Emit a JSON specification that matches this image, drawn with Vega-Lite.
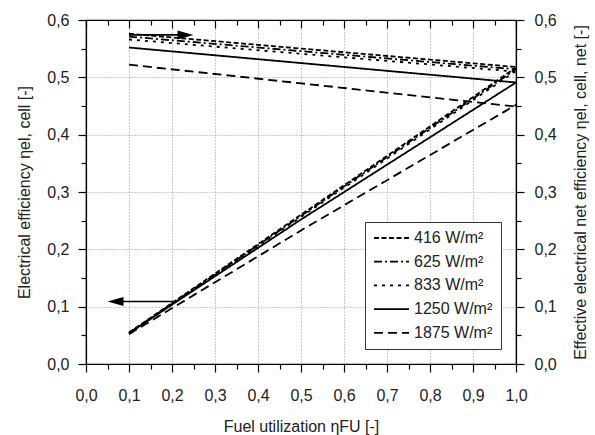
{
  "$schema": "https://vega.github.io/schema/vega-lite/v6.json",
  "width": 430,
  "height": 344,
  "autosize": {"type": "none"},
  "padding": {"left": 86, "top": 20, "right": 79, "bottom": 71},
  "background": "white",
  "config": {
    "font": "Liberation Sans",
    "view": {"stroke": "black", "strokeWidth": 1.2},
    "axis": {
      "domainColor": "black",
      "domainWidth": 1.2,
      "tickColor": "black",
      "tickWidth": 1.2,
      "labelFontSize": 16,
      "labelColor": "#222",
      "titleFontSize": 16,
      "titleFontWeight": "normal",
      "titleColor": "#222",
      "labelOverlap": false,
      "labelFlush": false,
      "gridColor": "#999",
      "gridDash": [1, 2],
      "gridWidth": 1
    },
    "legend": {
      "labelFontSize": 16,
      "labelColor": "#222",
      "strokeColor": "#333",
      "fillColor": "white",
      "padding": 8,
      "symbolType": "stroke",
      "symbolStrokeColor": "black",
      "symbolStrokeWidth": 1.8,
      "symbolSize": 1225,
      "clipHeight": 16,
      "rowPadding": 7.7
    }
  },
  "datasets": {
    "el": [
      {"s": "416 W/m²", "x": 0.1, "y": 0.055},
      {"s": "416 W/m²", "x": 1.0, "y": 0.517},
      {"s": "625 W/m²", "x": 0.1, "y": 0.054},
      {"s": "625 W/m²", "x": 1.0, "y": 0.514},
      {"s": "833 W/m²", "x": 0.1, "y": 0.053},
      {"s": "833 W/m²", "x": 1.0, "y": 0.511},
      {"s": "1250 W/m²", "x": 0.1, "y": 0.054},
      {"s": "1250 W/m²", "x": 0.5, "y": 0.252},
      {"s": "1250 W/m²", "x": 1.0, "y": 0.491},
      {"s": "1875 W/m²", "x": 0.1, "y": 0.052},
      {"s": "1875 W/m²", "x": 0.5, "y": 0.233},
      {"s": "1875 W/m²", "x": 1.0, "y": 0.452}
    ],
    "net": [
      {"s": "416 W/m²", "x": 0.1, "y": 0.576},
      {"s": "416 W/m²", "x": 1.0, "y": 0.518},
      {"s": "625 W/m²", "x": 0.1, "y": 0.571},
      {"s": "625 W/m²", "x": 1.0, "y": 0.514},
      {"s": "833 W/m²", "x": 0.1, "y": 0.566},
      {"s": "833 W/m²", "x": 1.0, "y": 0.510},
      {"s": "1250 W/m²", "x": 0.1, "y": 0.552},
      {"s": "1250 W/m²", "x": 1.0, "y": 0.491},
      {"s": "1875 W/m²", "x": 0.1, "y": 0.522},
      {"s": "1875 W/m²", "x": 1.0, "y": 0.449}
    ],
    "arrows": [
      {"arrow": "top", "x": 0.1, "y": 0.574},
      {"arrow": "top", "x": 0.24, "y": 0.574},
      {"arrow": "bottom", "x": 0.205, "y": 0.109},
      {"arrow": "bottom", "x": 0.06, "y": 0.109}
    ],
    "heads": [
      {"arrow": "top", "x": 0.25, "y": 0.574},
      {"arrow": "bottom", "x": 0.05, "y": 0.109}
    ]
  },
  "layer": [
    {
      "data": {"name": "el"},
      "mark": {"type": "line", "color": "black", "strokeWidth": 1.8},
      "encoding": {
        "x": {
          "field": "x", "type": "quantitative",
          "scale": {"domain": [0, 1], "nice": false, "zero": false},
          "axis": {
            "orient": "bottom",
            "title": "Fuel utilization ηFU [-]",
            "values": [0, 0.05, 0.1, 0.15, 0.2, 0.25, 0.3, 0.35, 0.4, 0.45, 0.5, 0.55, 0.6, 0.65, 0.7, 0.75, 0.8, 0.85, 0.9, 0.95, 1.0],
            "labelExpr": "abs(datum.value*10 - round(datum.value*10)) > 0.01 ? '' : replace(format(datum.value, '.1f'), '.', ',')",
            "tickSize": {"condition": {"test": "abs(datum.value*10 - round(datum.value*10)) > 0.01", "value": 5}, "value": 8},
            "gridOpacity": {"condition": {"test": "abs(datum.value*10 - round(datum.value*10)) > 0.01", "value": 0}, "value": 1},
            "grid": true,
            "labelPadding": 15,
            "titlePadding": 15
          }
        },
        "y": {
          "field": "y", "type": "quantitative",
          "scale": {"domain": [0, 0.6], "nice": false, "zero": false},
          "axis": {
            "orient": "left",
            "title": "Electrical efficiency ηel, cell [-]",
            "values": [0, 0.05, 0.1, 0.15, 0.2, 0.25, 0.3, 0.35, 0.4, 0.45, 0.5, 0.55, 0.6],
            "labelExpr": "abs(datum.value*10 - round(datum.value*10)) > 0.01 ? '' : replace(format(datum.value, '.1f'), '.', ',')",
            "tickSize": {"condition": {"test": "abs(datum.value*10 - round(datum.value*10)) > 0.01", "value": 5}, "value": 8},
            "gridOpacity": {"condition": {"test": "abs(datum.value*10 - round(datum.value*10)) > 0.01", "value": 0}, "value": 1},
            "grid": true,
            "labelPadding": 9,
            "titlePadding": 14
          }
        },
        "strokeDash": {
          "field": "s", "type": "nominal",
          "scale": {
            "domain": ["416 W/m²", "625 W/m²", "833 W/m²", "1250 W/m²", "1875 W/m²"],
            "range": [[5, 2.5], [8, 3, 2, 3], [3, 5], [1, 0], [9, 5]]
          },
          "legend": {"title": null, "orient": "bottom-right", "offset": 15}
        }
      }
    },
    {
      "data": {"name": "net"},
      "mark": {"type": "line", "color": "black", "strokeWidth": 1.8},
      "encoding": {
        "x": {
          "field": "x", "type": "quantitative",
          "axis": {
            "orient": "top",
            "title": null,
            "labels": false,
            "grid": false,
            "values": [0, 0.05, 0.1, 0.15, 0.2, 0.25, 0.3, 0.35, 0.4, 0.45, 0.5, 0.55, 0.6, 0.65, 0.7, 0.75, 0.8, 0.85, 0.9, 0.95, 1.0],
            "tickSize": {"condition": {"test": "abs(datum.value*10 - round(datum.value*10)) > 0.01", "value": -5}, "value": -8}
          }
        },
        "y": {
          "field": "y", "type": "quantitative",
          "axis": {
            "orient": "right",
            "title": "Effective electrical net efficiency ηel, cell, net [-]",
            "titleAngle": 270,
            "grid": false,
            "values": [0, 0.05, 0.1, 0.15, 0.2, 0.25, 0.3, 0.35, 0.4, 0.45, 0.5, 0.55, 0.6],
            "labelExpr": "abs(datum.value*10 - round(datum.value*10)) > 0.01 ? '' : replace(format(datum.value, '.1f'), '.', ',')",
            "tickSize": {"condition": {"test": "abs(datum.value*10 - round(datum.value*10)) > 0.01", "value": 5}, "value": 8},
            "labelPadding": 10,
            "titlePadding": 32
          }
        },
        "strokeDash": {"field": "s", "type": "nominal"}
      }
    },
    {
      "data": {"name": "arrows"},
      "mark": {"type": "line", "color": "black", "strokeWidth": 1.6},
      "encoding": {
        "x": {"field": "x", "type": "quantitative", "axis": null},
        "y": {"field": "y", "type": "quantitative", "axis": null},
        "detail": {"field": "arrow"}
      }
    },
    {
      "data": {"name": "heads"},
      "transform": [{"filter": "datum.arrow == 'top'"}],
      "mark": {"type": "point", "filled": true, "color": "black", "opacity": 1, "size": 256, "strokeWidth": 0, "shape": "M0,0L-2,-0.56L-2,0.56Z"},
      "encoding": {
        "x": {"field": "x", "type": "quantitative", "axis": null},
        "y": {"field": "y", "type": "quantitative", "axis": null}
      }
    },
    {
      "data": {"name": "heads"},
      "transform": [{"filter": "datum.arrow == 'bottom'"}],
      "mark": {"type": "point", "filled": true, "color": "black", "opacity": 1, "size": 256, "strokeWidth": 0, "shape": "M0,0L2,-0.56L2,0.56Z"},
      "encoding": {
        "x": {"field": "x", "type": "quantitative", "axis": null},
        "y": {"field": "y", "type": "quantitative", "axis": null}
      }
    }
  ],
  "resolve": {"axis": {"x": "independent", "y": "independent"}}
}
